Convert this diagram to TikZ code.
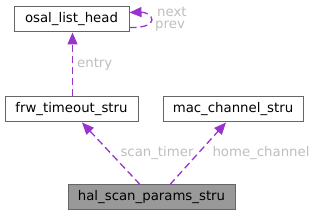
\documentclass[tikz,border=0pt]{standalone}
\usepackage{fontspec}
\setmainfont{DejaVu Sans}
\usetikzlibrary{arrows.meta,positioning}
\definecolor{edgepurple}{HTML}{9A32CD}
\definecolor{labelgray}{HTML}{BEBEBE}
\definecolor{rootfill}{HTML}{999999}
\definecolor{boxline}{HTML}{666666}

\begin{document}
\begin{tikzpicture}[x=1pt,y=-1pt,font=\fontsize{13.3}{15}\selectfont,
    structbox/.style={draw=boxline,fill=white,minimum height=25pt,inner sep=0pt,line width=1pt},
    member/.style={-{Triangle[length=12pt,width=10pt]},dash pattern=on 7pt off 4pt,edgepurple,line width=1.3pt},
    memberlabel/.style={text=labelgray,inner sep=1pt}]
    \useasboundingbox (0,0) rectangle (316,216);
    \node (osal) [structbox,minimum width=115pt] at (71.5,19.5) {osal\_list\_head};
    \node (frw) [structbox,minimum width=133pt] at (71.5,109.5) {frw\_timeout\_stru};
    \node (mac) [structbox,minimum width=140pt] at (233,109.5) {mac\_channel\_stru};
    \node (hal) [structbox,fill=rootfill,minimum width=167pt] at (151.5,197.5) {hal\_scan\_params\_stru};
    % self reference of the list head
    \draw[member] ([yshift=-8pt]osal.east) .. controls (142,28) and (152,25) .. (152,20)
        .. controls (152,15) and (145,12) .. ([yshift=7pt]osal.east);
    \node (next) [memberlabel,anchor=west] at (156,12) {next};
    \node (prev) [memberlabel,anchor=west] at (154,26) {prev};
    \draw[member] ([xshift=1pt]frw.north) -- ([xshift=1pt]osal.south) node[memberlabel,midway,anchor=west,xshift=3pt] {entry};
    \draw[member] ([xshift=-11.5pt]hal.north) -- ([xshift=10.5pt]frw.south);
    \node (scantimer) [memberlabel] at (157,153) {scan\_timer};
    \draw[member] ([xshift=18.5pt]hal.north) -- ([xshift=-7pt]mac.south);
    \node (homechannel) [memberlabel] at (261,153) {home\_channel};
\end{tikzpicture}
\end{document}
